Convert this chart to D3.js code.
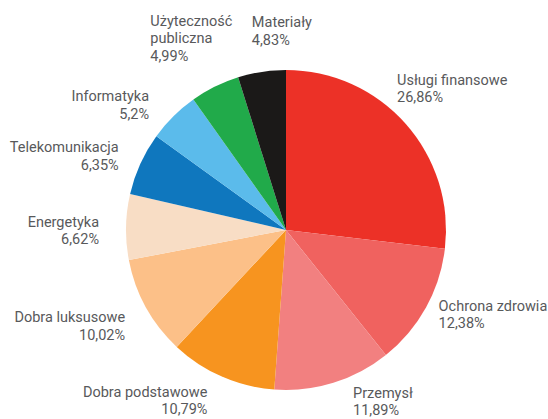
<!DOCTYPE html>
<html>
<head>
<meta charset="utf-8">
<script src="https://cdn.jsdelivr.net/npm/d3@7"></script>
<style>
  html, body { margin: 0; padding: 0; background: #fff; }
</style>
</head>
<body>
<div id="chart"></div>
<script>
// Sectors and their weights (%)
const sectors = [ 'Usługi finansowe', 'Ochrona zdrowia', 'Przemysł', 'Dobra podstawowe',
                  'Dobra luksusowe', 'Energetyka', 'Telekomunikacja', 'Informatyka',
                  'Użyteczność\npubliczna', 'Materiały' ];
const weights = [ 26.86, 12.38, 11.89, 10.79, 10.02, 6.62, 6.35, 5.2, 4.99, 4.83 ];
const colors  = [ '#EC3127', '#F0625F', '#F28080', '#F7941F', '#FCC088',
                  '#F8DDC5', '#0F77BE', '#5BBBEB', '#21AA4A', '#1B1918' ];

const width = 548, height = 419;
const cx = 286, cy = 230, radius = 160;
const labelRadius = 186;
const fontStyle = 'font-family:Roboto, sans-serif; font-size:14.5px; fill:#58595B;';

// small hand nudges so labels sit where the original put them
const labelNudge = [ [-28, -18], [-10, -6], [12, -6], [-4, 0], [2, 6],
                     [-1, 4], [2, 3], [-6, 7], [-53, -25], [-6, -15] ];
const labelAnchor = [ 'start', 'start', 'start', 'end', 'end',
                      'end', 'end', 'end', 'start', 'start' ];

const data = sectors.map( function( s, i ) { return { name: s, value: weights[i], i: i }; } );

const svg = d3.select( '#chart' )
  .append( 'svg' )
    .attr( 'width', width )
    .attr( 'height', height );

const g = svg.append( 'g' )
  .attr( 'transform', 'translate(' + cx + ',' + cy + ')' );

const pie = d3.pie()
  .value( function( d ) { return d.value; } )
  .sort( null );

const arc = d3.arc()
  .innerRadius( 0 )
  .outerRadius( radius );

const arcs = pie( data );

g.selectAll( 'path' )
  .data( arcs )
  .enter()
  .append( 'path' )
    .attr( 'd', arc )
    .attr( 'fill', function( d ) { return colors[ d.data.i ]; } );

// Labels
const fmt = function( v ) { return String( v ).replace( '.', ',' ) + '%'; };

const labels = g.selectAll( 'text.label' )
  .data( arcs )
  .enter()
  .append( 'text' )
    .attr( 'class', 'label' )
    .attr( 'style', fontStyle )
    .attr( 'text-anchor', function( d ) { return labelAnchor[ d.data.i ]; } )
    .attr( 'transform', function( d ) {
      const a = ( d.startAngle + d.endAngle ) / 2;
      const n = labelNudge[ d.data.i ];
      const x = Math.sin( a ) * labelRadius + n[0];
      const y = -Math.cos( a ) * labelRadius + n[1];
      return 'translate(' + x + ',' + y + ')';
    } );

labels.each( function( d ) {
  const lines = d.data.name.split( '\n' ).concat( [ fmt( d.data.value ) ] );
  const el = d3.select( this );
  const lh = 17.5;
  const first = -( lines.length - 1 ) * lh / 2 + 5;
  lines.forEach( function( l, k ) {
    el.append( 'tspan' )
      .attr( 'x', 0 )
      .attr( 'y', first + k * lh )
      .text( l );
  } );
} );
</script>
</body>
</html>
